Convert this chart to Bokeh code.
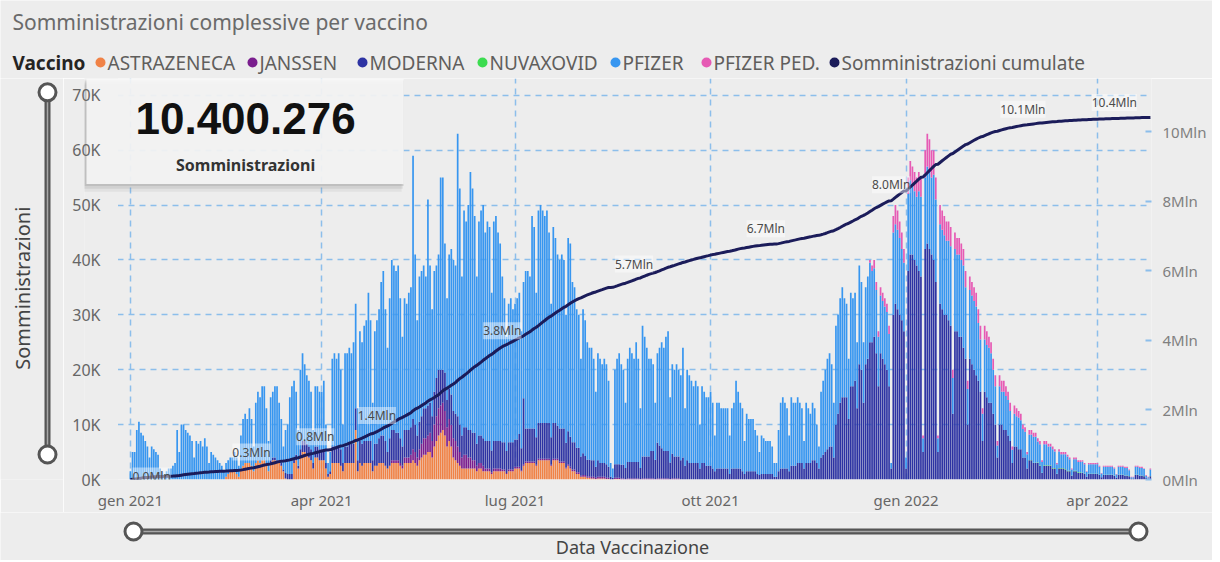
import numpy as np
import pandas as pd
from bokeh.plotting import figure
from bokeh.models import (ColumnDataSource, Range1d, LinearAxis, FixedTicker,
                          CustomJSTickFormatter, LabelSet, Label, BoxAnnotation)
from bokeh.layouts import column, row
from bokeh.embed import file_html
from bokeh.resources import INLINE
from bokeh.core.properties import value

# ---------------------------------------------------------------- data
FIRST_DAY = "2021-01-01"
# daily administrations (thousands); each row = 7 days (Fri..Thu) from FIRST_DAY
TOTALE_ROWS = [
    [1.5, 5, 5, 9, 10.5, 8.5, 8], [7, 6, 4, 6, 5.5, 5, 4.5], [2, 1.5, 1, 1.5, 2, 2, 2.5],
    [3, 9, 5, 10, 10, 9, 8.5], [8, 7, 4, 7, 6.5, 7, 6], [7.5, 6, 3, 5, 4.5, 4, 3.5],
    [3, 2.5, 1.5, 3, 3.5, 4, 4], [5, 4, 2.5, 8, 11, 12, 11], [13, 11, 6, 14, 16, 15, 17],
    [17, 13, 7, 15, 16, 17, 17], [14, 11, 6, 9, 10, 15, 17], [18, 16, 9, 20, 23, 21, 19],
    [18, 16, 9, 17, 17, 16, 16], [18, 10, 3, 5, 22, 23, 22], [23, 20, 10, 23, 23, 24, 23],
    [25, 32, 13, 27, 25, 28, 29], [34, 29, 14, 27, 29, 31, 36], [38, 31, 24, 33, 40, 39, 38],
    [39, 33, 26, 33, 32, 34, 35], [59, 41, 29, 37, 38, 39, 37], [51, 39, 31, 38, 39, 41, 55],
    [55, 43, 33, 41, 42, 40, 39], [63, 53, 37, 49, 47, 50, 56], [53, 48, 37, 47, 49, 50, 45],
    [47, 46, 34, 47, 48, 45, 43], [37, 33, 26, 32, 33, 31, 32], [33, 34, 27, 36, 38, 38, 37],
    [48, 46, 34, 49, 50, 49, 48], [49, 45, 32, 46, 44, 41, 40], [41, 40, 30, 44, 43, 36, 35],
    [31, 30, 22, 31, 29, 25, 24], [24, 22, 16, 23, 22, 21, 22], [21, 18, 3, 2, 20, 22, 23],
    [21, 20, 14, 22, 24, 23, 22], [25, 22, 13, 28, 26, 24, 22], [22, 21, 14, 23, 24, 25, 24],
    [26, 27, 15, 21, 20, 21, 20], [19, 24, 13, 20, 19, 18, 17], [18, 17, 10, 17, 16, 15, 15],
    [16, 14, 8, 14, 14, 13, 13], [13, 13, 8, 13, 14, 18, 16], [14, 13, 7, 12, 11, 11, 11],
    [9, 8, 5, 8, 7.5, 7, 7], [7, 6, 3, 3, 9, 14, 15], [14, 13, 8, 15, 14, 14, 15],
    [14, 13, 7, 14, 13, 12, 14], [13, 10, 6, 16, 18, 20, 22], [23, 21, 14, 28, 30, 33, 35],
    [33, 32, 22, 34, 33, 34, 25], [39, 36, 25, 35, 37, 40, 39], [40, 36, 27, 35, 34, 33, 32],
    [28, 3, 48, 50, 49, 47, 45], [42, 4, 55, 58, 57, 56, 55], [56, 55, 8, 60, 63, 62, 60],
    [60, 55, 8, 50, 49, 48, 47], [47, 46, 20, 45, 44, 44, 43], [42, 38, 18, 37, 36, 35, 34],
    [31, 28, 13, 28, 27, 26, 25], [22, 19, 7, 19, 18, 18, 17], [16, 14, 6, 13.5, 13, 12.5, 12],
    [10, 9.5, 5, 9, 9, 8.5, 8.5], [7.5, 7, 3.5, 7, 7, 6.5, 6.5], [6, 5.5, 3, 5.5, 5, 5, 5],
    [4.5, 4, 2, 4, 4, 3.5, 3.5], [3.5, 3, 1.5, 3, 3, 3, 3], [3, 2.5, 1.2, 2.5, 2.5, 2.5, 2.5],
    [2.5, 2.2, 1, 2.5, 2.5, 2.5, 2.3], [2.3, 1.8, 0.5, 0.5, 2.5, 2.5, 2.3], [2.3, 2, 0.8, 0.5, 2],
]

ASTRAZENECA_FROM_ROW = 6
ASTRAZENECA_ROWS = [
    [0, 0, 0, 0.5, 1, 1.5, 1.5], [1.5, 1, 0.5, 2, 2.5, 3, 3], [3, 2.5, 1.5, 3, 3.5, 3, 3.5],
    [3.5, 3, 1.5, 3, 3.5, 3.5, 3], [3, 2.5, 1.5, 0.2, 0, 0, 0], [3, 3.5, 2, 4, 5, 5, 4.5],
    [4, 3.5, 2, 4, 4, 3.5, 3.5], [3.5, 2, 0.5, 1, 3, 3, 3], [3, 2.5, 1.5, 3, 3, 3, 3],
    [3, 9, 1.5, 3, 2.5, 3, 3], [3, 3, 1.5, 2.5, 2.5, 3, 3], [3, 2.5, 2, 2.5, 3, 3, 3],
    [3, 2.5, 2, 3, 3, 3, 3], [3.5, 3, 2.5, 3.5, 4, 4.5, 4.5], [5, 5, 4, 6, 7, 8, 8.5],
    [9, 8, 6, 7, 6, 4, 3.5], [3, 2.5, 2, 2, 2, 2, 2], [2, 2, 1.5, 2, 2, 1.5, 1.5],
    [1.5, 1.5, 1, 1.5, 1.5, 1.5, 1.5], [1.5, 1.5, 1, 1.5, 1.5, 1.5, 2], [2, 2, 1.5, 2.5, 3, 3, 3],
    [3, 3, 2.5, 3.5, 3.5, 3.5, 3.5], [3.5, 3.5, 2.5, 3.5, 3.5, 3.5, 3], [3, 3, 2, 2.5, 2, 1.5, 1.5],
    [1, 1, 0.5, 0.5, 0.5, 0.3, 0.3], [0.2, 0.2, 0.1, 0.2, 0.2, 0.2, 0.2], [0.1, 0.1, 0, 0, 0.1, 0.1, 0.1],
]

JANSSEN_FROM_ROW = 17
JANSSEN_ROWS = [
    [0, 0, 0, 0, 0.5, 0.5, 0.5], [0.5, 0.5, 0.5, 1, 1, 1, 1.5], [2, 2, 1.5, 2, 2.5, 3, 3],
    [3, 3.5, 3, 4, 4.5, 5, 5], [5, 4.5, 3.5, 4, 4, 3.5, 3.5], [3, 2.5, 2, 2.5, 2.5, 2, 2],
    [1.5, 1.5, 1, 1, 1, 1, 0.5], [0.5, 0.5, 0.3, 0.5, 0.5, 0.5, 0.5],
    [0.3, 0.3, 0.2, 0.3, 0.3, 0.3, 0.3], [0.3, 0.3, 0.2, 0.3, 0.3, 0.3, 0.3],
    [0.3, 0.3, 0.2, 0.3, 0.3, 0.3, 0.3], [0.3, 0.3, 0.2, 0.3, 0.3, 0.3, 0.3],
    [0.3, 0.3, 0.2, 0.3, 0.3, 0.3, 0.3], [0.3, 0.3, 0.2, 0.3, 0.3, 0.3, 0.3],
    [0.3, 0.3, 0.2, 0.3, 0.3, 0.3, 0.3], [0.2, 0.2, 0, 0, 0.2, 0.2, 0.2],
    [0.2, 0.2, 0.1, 0.2, 0.2, 0.2, 0.2], [0.2, 0.2, 0.1, 0.2, 0.2, 0.2, 0.2],
    [0.2, 0.2, 0.1, 0.2, 0.2, 0.2, 0.2], [0.2, 0.2, 0.1, 0.2, 0.2, 0.2, 0.2],
]

MODERNA_FROM_ROW = 9
MODERNA_ROWS = [
    [0, 0, 0, 0.5, 0.5, 0.5, 0.5], [0.5, 0.5, 0.3, 1, 1, 1, 1], [1, 1, 0.5, 1.5, 2, 2, 2],
    [2, 2, 1, 2, 2, 2, 2], [2, 1, 0.5, 0.5, 3, 3, 3], [3, 3, 1.5, 3, 3, 3.5, 3.5],
    [3.5, 4, 2, 4, 4, 4, 4], [4, 4, 2, 4, 4, 4.5, 5], [5, 4.5, 3, 5, 5.5, 5.5, 5],
    [5, 4.5, 3.5, 5, 5, 5, 5], [5.5, 5, 4, 5, 5, 5.5, 5.5], [5.5, 5.5, 4.5, 6, 7, 7, 6.5],
    [6, 7, 5, 5.5, 5.5, 5, 5], [5.5, 5, 4, 5, 5, 5, 5], [5, 5, 4, 5, 5, 5, 5],
    [5, 5, 4, 5, 5, 5, 5], [5, 5, 4, 5, 5, 5, 5], [5, 6, 4, 12, 6, 6, 6],
    [6, 6, 5, 6.5, 6.5, 6.5, 6.5], [6.5, 6.5, 5, 6.5, 6.5, 6, 6], [6, 6, 4.5, 6, 5.5, 5, 5],
    [4.5, 4.5, 3.5, 4, 3.5, 3, 3], [3, 3, 2, 3, 2.5, 2.5, 2.5], [2.5, 2, 0.5, 0.3, 2.5, 2.5, 2.5],
    [2.5, 2.5, 2, 3, 3, 3, 3], [3, 3, 2, 4, 4, 4, 4], [5, 5, 3.5, 6.5, 6, 5.5, 5],
    [5, 5, 3, 4.5, 4, 4, 4], [3.5, 4, 2.5, 3.5, 3, 3, 3], [3, 3, 2, 3, 3, 2.5, 2.5],
    [2.5, 2, 1.5, 2, 2, 2, 2], [2, 2, 1, 2, 2, 2, 2], [2, 1.5, 1, 1.5, 1.5, 1.5, 1.5],
    [1.5, 1, 0.8, 1, 1, 1, 1], [1, 1, 0.5, 0.5, 1.5, 2, 2], [2, 2, 1.5, 2.5, 2.5, 2.5, 3],
    [3, 3, 2, 3, 3, 3, 3.5], [3.5, 3, 2, 4, 4.5, 5, 5.5], [6, 6, 4, 10, 12, 14, 15],
    [15, 15, 11, 17, 17, 18, 13], [21, 20, 14, 21, 22, 25, 25], [26, 23, 17, 23, 22, 21, 20],
    [17, 2, 30, 32, 31, 30, 29], [27, 2, 38, 41, 41, 40, 39], [38, 37, 5, 42, 43, 42, 41],
    [40, 36, 5, 32, 31, 30, 30], [29, 28, 12, 27, 27, 26, 26], [24, 22, 10, 22, 21, 20, 19],
    [18, 16, 7, 16, 15, 14, 14], [12, 10, 4, 10, 10, 9, 9], [8, 7, 3, 6, 6, 5.5, 5.5],
    [4, 4, 2, 3.5, 3.5, 3, 3], [3, 2.5, 1.2, 2.5, 2.5, 2.5, 2.5], [2, 2, 1, 2, 2, 2, 1.8],
    [1.5, 1.5, 0.7, 1.5, 1.5, 1.2, 1.2], [1.2, 1, 0.5, 1, 1, 1, 1], [1, 0.8, 0.4, 0.8, 0.8, 0.8, 0.8],
    [0.8, 0.7, 0.3, 0.8, 0.8, 0.8, 0.7], [0.7, 0.6, 0.2, 0.2, 0.8, 0.8, 0.7], [0.7, 0.6, 0.3, 0.2, 0.6],
]

PFIZER_PED_FROM_ROW = 49
PFIZER_PED_ROWS = [
    [0, 0, 0, 0, 0, 0.5, 1], [1.5, 1.5, 1, 1.5, 1.5, 1.5, 1.5], [1.5, 0, 3, 3.5, 3.5, 3, 3],
    [2.5, 0, 3, 3.5, 3.5, 3.5, 3.5], [3.5, 3.5, 0.5, 5, 6, 5.5, 5], [4.5, 4, 0.5, 3.5, 3.5, 3.5, 3.5],
    [3.5, 3.5, 1.5, 3, 3, 3, 3], [3, 3, 1.5, 2.5, 2.5, 2.5, 2.5], [2.5, 2.5, 1, 2.5, 2.5, 2, 2],
    [2, 2, 0.8, 2, 2, 2, 1.8], [1.5, 1.5, 0.6, 1.5, 1.5, 1.2, 1.2], [0.8, 0.8, 0.4, 0.8, 0.8, 0.7, 0.7],
    [0.6, 0.6, 0.3, 0.6, 0.6, 0.5, 0.5], [0.5, 0.4, 0.2, 0.4, 0.4, 0.4, 0.4],
    [0.3, 0.3, 0.2, 0.3, 0.3, 0.3, 0.3], [0.2, 0.2, 0.1, 0.2, 0.2, 0.2, 0.2],
    [0.2, 0.2, 0.1, 0.2, 0.2, 0.2, 0.2], [0.2, 0.2, 0.1, 0.2, 0.2, 0.2, 0.2],
    [0.2, 0.1, 0.1, 0.1, 0.2, 0.2, 0.2], [0.2, 0.1, 0.1, 0.1, 0.2],
]

NUVAXOVID_FROM_ROW = 60
NUVAXOVID_ROWS = [
    [0, 0, 0, 0.05, 0.05, 0.05, 0.05], [0.1, 0.1, 0.05, 0.1, 0.1, 0.1, 0.1],
    [0.1, 0.1, 0.05, 0.1, 0.1, 0.1, 0.1], [0.1, 0.1, 0.05, 0.1, 0.1, 0.1, 0.1],
    [0.05, 0.05, 0, 0.05, 0.05, 0.05, 0.05], [0.05, 0.05, 0, 0.05, 0.05, 0.05, 0.05],
    [0.05, 0.05, 0, 0.05, 0.05, 0.05, 0.05], [0.05, 0.05, 0, 0, 0.05, 0.05, 0.05],
    [0.05, 0.05, 0, 0, 0.05],
]

KPI_TEXT = "10.400.276"
KPI_CAPTION = "Somministrazioni"
CUM_LABEL_DATES = ["2021-01-11", "2021-02-27", "2021-03-29", "2021-04-27", "2021-06-25",
                   "2021-08-26", "2021-10-27", "2021-12-25", "2022-02-25", "2022-04-09"]
CUM_LABEL_TEXTS = ["0.0Mln", "0.3Mln", "0.8Mln", "1.4Mln", "3.8Mln",
                   "5.7Mln", "6.7Mln", "8.0Mln", "10.1Mln", "10.4Mln"]
X_TICK_DATES = ["2021-01-01", "2021-04-01", "2021-07-01", "2021-10-01", "2022-01-01", "2022-04-01"]
X_TICK_LABELS = ["gen 2021", "apr 2021", "lug 2021", "ott 2021", "gen 2022", "apr 2022"]
Y_TICKS = [0, 10000, 20000, 30000, 40000, 50000, 60000, 70000]
CUM_TICKS = [0, 2e6, 4e6, 6e6, 8e6, 10e6]
SERIES = ["ASTRAZENECA", "JANSSEN", "MODERNA", "NUVAXOVID", "PFIZER", "PFIZER PED."]
LINE_NAME = "Somministrazioni cumulate"
TITLE = "Somministrazioni complessive per vaccino"
LEGEND_TITLE = "Vaccino"
Y_TITLE = "Somministrazioni"
X_TITLE = "Data Vaccinazione"

# ---------------------------------------------------------------- build table
N = sum(len(r) for r in TOTALE_ROWS)


def flatten(rows, from_row=0):
    vals = [0.0] * (7 * from_row) + [float(v) for r in rows for v in r]
    vals += [0.0] * (N - len(vals))
    return np.array(vals[:N])


tot = flatten(TOTALE_ROWS)
az = flatten(ASTRAZENECA_ROWS, ASTRAZENECA_FROM_ROW)
jan = flatten(JANSSEN_ROWS, JANSSEN_FROM_ROW)
mod = flatten(MODERNA_ROWS, MODERNA_FROM_ROW)
ped = flatten(PFIZER_PED_ROWS, PFIZER_PED_FROM_ROW)
nuv = flatten(NUVAXOVID_ROWS, NUVAXOVID_FROM_ROW)
pfz = np.clip(tot - az - jan - mod - ped - nuv, 0, None)   # rest of each bar = PFIZER

day = np.arange(N)
keys = ["az", "jan", "mod", "nuv", "pfz", "ped"]
cum_all = np.cumsum(tot * 1000)
src = ColumnDataSource(dict(d=day, az=az * 1000, jan=jan * 1000, mod=mod * 1000,
                            nuv=nuv * 1000, pfz=pfz * 1000, ped=ped * 1000, cum=cum_all))

t0 = pd.Timestamp(FIRST_DAY)
lab_days = [(pd.Timestamp(s) - t0).days for s in CUM_LABEL_DATES]
lab_src = ColumnDataSource(dict(d=lab_days, v=[cum_all[i] for i in lab_days],
                                t=CUM_LABEL_TEXTS, yo=[1] + [16] * (len(lab_days) - 1)))
tick_days = [(pd.Timestamp(s) - t0).days for s in X_TICK_DATES]

# ---------------------------------------------------------------- style / layout
FONT = "Noto Sans"
BG = "#EDEDED"
GRID = "#8CBEEB"
COLORS = ["#F08246", "#7A1E8E", "#2D33A3", "#3CDC50", "#3796F0", "#E65AB4"]
NAVY = "#1B1C5A"
PAGE_W = 1212
HEAD_H, MAIN_H, BOT_H, LEFT_W = 78, 434, 48, 63
# page pixels: the drawn grid area spans 118..1150.5 (days -5.6 .. 480.5); the frame is
# widened to the left (to 84) so the KPI card can sit partly over the axis gutter
GRID_L, FRAME_L, FRAME_R, FRAME_T, FRAME_B = 118, 84, 1150.5, 78, 485
D_L, D_R = -5.6, 480.5
PX_DAY = (FRAME_R - GRID_L) / (D_R - D_L)
X0, X1 = D_L - (GRID_L - FRAME_L) / PX_DAY, D_R
Y_TOP = 70000 * (FRAME_B - FRAME_T) / 390.0
CUM_TOP = 1e6 * (FRAME_B - FRAME_T) / 35.3


def dx(px):
    return X0 + (px - FRAME_L) / PX_DAY


def dy(py):
    return Y_TOP * (FRAME_B - py) / (FRAME_B - FRAME_T)


def strip(w, h):
    f = figure(width=w, height=h, x_range=Range1d(0, w), y_range=Range1d(0, h),
               x_axis_type=None, y_axis_type=None, toolbar_location=None,
               output_backend="svg", title=None, min_border=0,
               background_fill_color=BG, border_fill_color=BG, outline_line_color=None)
    f.xgrid.visible = False
    f.ygrid.visible = False
    return f


def txt(f, x, y, s, size, color, bold=False, align="left", angle=0.0):
    f.add_layout(Label(x=x, y=y, text=s, text_font=FONT, text_font_size=size,
                       text_color=color, text_font_style="bold" if bold else "normal",
                       text_align=align, text_baseline="middle", angle=angle))


# ---------------------------------------------------------------- header (page y 0..78)
head = strip(PAGE_W, HEAD_H)
hy = lambda py: HEAD_H - py
txt(head, 12, hy(21), TITLE, "21px", "#6A6A6A")
txt(head, 12, hy(62), LEGEND_TITLE, "19px", "#252423", bold=True)
LEG_DOT_X = [100, 252, 362, 482, 615, 706, 834]
leg_names = SERIES + [LINE_NAME]
leg_cols = COLORS + [NAVY]
head.scatter(x=LEG_DOT_X, y=[hy(62)] * 7, size=10, fill_color=leg_cols, line_color=None)
for xd, name in zip(LEG_DOT_X, leg_names):
    txt(head, xd + 7, hy(62), name, "19px", "#605E5C")

# ---------------------------------------------------------------- main chart
p = figure(width=PAGE_W - LEFT_W, height=MAIN_H, x_range=Range1d(X0, X1),
           y_range=Range1d(0, Y_TOP), output_backend="svg", toolbar_location=None, title=None,
           min_border_left=FRAME_L - LEFT_W, min_border_right=int(PAGE_W - FRAME_R),
           min_border_top=0, min_border_bottom=HEAD_H + MAIN_H - FRAME_B,
           background_fill_color=BG, border_fill_color=BG, outline_line_color=None)

for g in (p.xgrid, p.ygrid):
    g.grid_line_color = GRID
    g.grid_line_dash = "6 5"
    g.grid_line_width = 1.5

ax = p.xaxis[0]
ax.ticker = FixedTicker(ticks=tick_days)
ax.major_label_overrides = {d: s for d, s in zip(tick_days, X_TICK_LABELS)}
ay = p.yaxis[0]
ay.ticker = FixedTicker(ticks=Y_TICKS)
ay.formatter = CustomJSTickFormatter(code="return (tick/1000).toFixed(0) + 'K';")
# y labels end at page x ~107, i.e. inside the widened frame -> negative standoff
for a, fs, st in ((ax, "15px", 4), (ay, "16px", FRAME_L - 107 + 1)):
    a.axis_line_color = None
    a.major_tick_line_color = None
    a.minor_tick_line_color = None
    a.major_label_text_font = FONT
    a.major_label_text_font_size = fs
    a.major_label_text_color = "#666666"
    a.major_label_standoff = st

p.extra_y_ranges = {"cum": Range1d(0, CUM_TOP)}
ar = LinearAxis(y_range_name="cum", ticker=FixedTicker(ticks=CUM_TICKS),
                formatter=CustomJSTickFormatter(code="return (tick/1e6).toFixed(0) + 'Mln';"))
ar.axis_line_color = None
ar.minor_tick_line_color = None
ar.major_tick_in = 6
ar.major_tick_out = 0
ar.major_tick_line_color = GRID
ar.major_tick_line_width = 2
ar.major_label_text_font = FONT
ar.major_label_text_font_size = "15px"
ar.major_label_text_color = "#808080"
ar.major_label_standoff = 11
p.add_layout(ar, "right")

# hide the grid in the gutter left of the grid area
p.add_layout(BoxAnnotation(left=dx(FRAME_L - 20), right=dx(GRID_L - 0.5), top=Y_TOP * 2,
                           bottom=-Y_TOP, fill_color=BG, fill_alpha=1.0, line_color=None,
                           level="underlay"))
# KPI card with a soft shadow
for l, r, t, b, a in ((81, 401, 84, 193, 0.10), (83, 402, 82, 190, 0.16), (84, 403, 80, 187, 0.22)):
    p.add_layout(BoxAnnotation(left=dx(l), right=dx(r), top=dy(t), bottom=dy(b),
                               fill_color="#808080", fill_alpha=a, line_color=None,
                               level="underlay"))
p.add_layout(BoxAnnotation(left=dx(86), right=dx(403), top=dy(78), bottom=dy(185),
                           fill_color="#F7F7F7", fill_alpha=0.9, line_color=None,
                           level="underlay"))

p.vbar_stack(keys, x="d", width=0.8, color=COLORS, line_color=None, source=src)
p.line(x="d", y="cum", source=src, y_range_name="cum", line_color=NAVY, line_width=3)

p.add_layout(LabelSet(x="d", y="v", text="t", y_offset="yo", source=lab_src, y_range_name="cum",
                      text_align="center", text_baseline="middle", text_font=value(FONT),
                      text_font_size="12px", text_color="#4A4A4A",
                      background_fill_color="white", background_fill_alpha=0.45))

p.add_layout(Label(x=dx(245), y=dy(119), text=KPI_TEXT, text_align="center",
                   text_baseline="middle", text_font="Liberation Sans", text_font_style="bold",
                   text_font_size="44px", text_color="#111111"))
p.add_layout(Label(x=dx(245), y=dy(166), text=KPI_CAPTION, text_align="center",
                   text_baseline="middle", text_font=FONT, text_font_style="bold",
                   text_font_size="16px", text_color="#333333"))

# ---------------------------------------------------------------- left strip (page x 0..63)
left = strip(LEFT_W, MAIN_H)
ly = lambda py: HEAD_H + MAIN_H - py
txt(left, 22, ly(305), Y_TITLE, "20px", "#444444", align="center", angle=np.pi / 2)
left.segment(x0=[47], y0=[ly(93)], x1=[47], y1=[ly(485)], line_width=6, line_color="#555555")
left.segment(x0=[47], y0=[ly(93)], x1=[47], y1=[ly(485)], line_width=1.5, line_color="#A8A8A8")
left.scatter(x=[47, 47], y=[ly(93), ly(485)], size=17, fill_color="white",
             line_color="#555555", line_width=3)

# ---------------------------------------------------------------- bottom strip (page y 512..560)
bot = strip(PAGE_W, BOT_H)
by = lambda py: HEAD_H + MAIN_H + BOT_H - py
bot.segment(x0=[133], y0=[by(531)], x1=[1138], y1=[by(531)], line_width=6, line_color="#555555")
bot.segment(x0=[133], y0=[by(531)], x1=[1138], y1=[by(531)], line_width=1.5, line_color="#A8A8A8")
bot.scatter(x=[133, 1138], y=[by(531)] * 2, size=17, fill_color="white", line_color="#555555",
            line_width=3)
txt(bot, 632, by(546), X_TITLE, "18px", "#444444", align="center")

layout = column(head, row(left, p), bot)
open("out.html", "w").write(file_html(layout, INLINE))
